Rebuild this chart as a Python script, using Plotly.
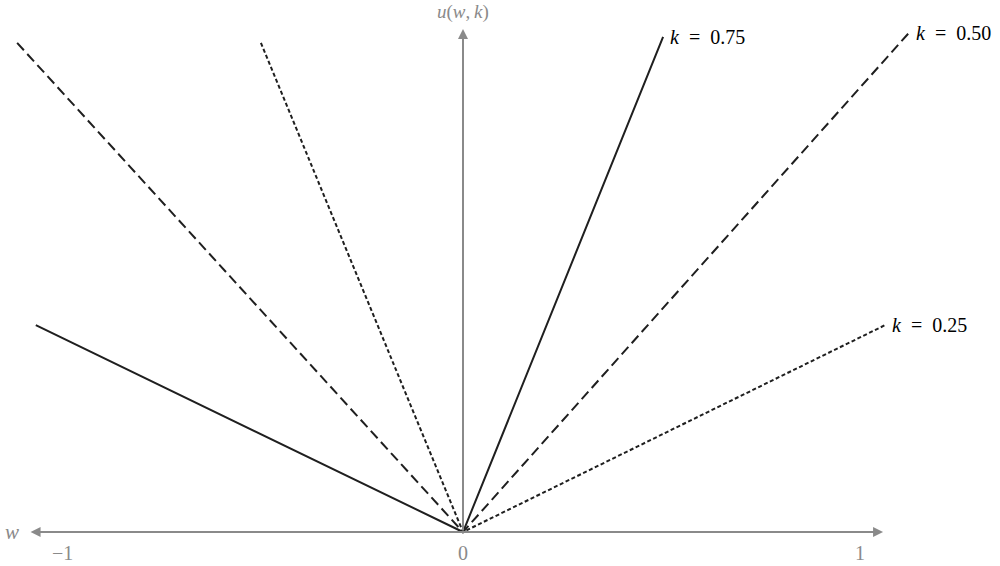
import plotly.graph_objects as go

# line end points (w, u)
k_labels = ["k = 0.75", "k = 0.50", "k = 0.25"]
w_075 = [-1.076, 0.0, 0.504]
u_075 = [0.521, 0.0, 1.247]
w_050 = [-1.123, 0.0, 1.123]
u_050 = [1.232, 0.0, 1.257]
w_025 = [-0.509, 0.0, 1.063]
u_025 = [1.232, 0.0, 0.521]

tick_vals = [-1, 0, 1]
tick_text = ["\u22121", "0", "1"]

AX = "#8a8a8a"
INK = "#1f1f1f"
FONT = "Liberation Serif"

fig = go.Figure()

series = [(w_075, u_075, "solid"), (w_050, u_050, "10px,5px"), (w_025, u_025, "4px,2.5px")]
for (w, u, dash), name in zip(series, k_labels):
    fig.add_trace(go.Scatter(x=w, y=u, mode="lines", name=name,
                             line=dict(color=INK, width=2, dash=dash),
                             showlegend=False, hoverinfo="skip"))

# axes drawn as arrows
fig.add_annotation(x=1.058, y=0, ax=-1.093, ay=0, xref="x", yref="y", axref="x", ayref="y",
                   text="", showarrow=True, arrowhead=2, startarrowhead=2, arrowside="end+start",
                   arrowsize=1, arrowwidth=2, arrowcolor=AX)
fig.add_annotation(x=0, y=1.267, ax=0, ay=0, xref="x", yref="y", axref="x", ayref="y",
                   text="", showarrow=True, arrowhead=2, arrowsize=1, arrowwidth=2, arrowcolor=AX)

# axis titles
fig.add_annotation(x=0, y=1.267, yshift=4, text="<i>u</i>(<i>w</i>,\u2009<i>k</i>)", showarrow=False,
                   font=dict(family=FONT, size=19, color=AX), xanchor="center", yanchor="bottom")
fig.add_annotation(x=-1.093, y=0, xshift=-8, text="<i>w</i>", showarrow=False,
                   font=dict(family=FONT, size=21, color=AX), xanchor="right", yanchor="middle")

# tick labels under the w axis
for v, t in zip(tick_vals, tick_text):
    fig.add_annotation(x=v, y=0, yshift=-8, xshift=-3 if v < 0 else 0, text=t, showarrow=False,
                       font=dict(family=FONT, size=20, color=AX), xanchor="center", yanchor="top")

# curve labels at the right ends
ends = [(w_075[-1], u_075[-1]), (w_050[-1], u_050[-1]), (w_025[-1], u_025[-1])]
for (x, y), lab in zip(ends, k_labels):
    k, eq, num = lab.split(" ")
    text = "<i>" + k + "</i>\u2002" + eq + "\u2002" + num
    fig.add_annotation(x=x, y=y, xshift=5, text=text, showarrow=False,
                       font=dict(family=FONT, size=20, color="black"), xanchor="left", yanchor="middle")

fig.update_layout(
    width=1000, height=566,
    margin=dict(l=0, r=0, t=0, b=0),
    paper_bgcolor="white", plot_bgcolor="white",
    xaxis=dict(range=[-1.1662, 1.3526], visible=False, fixedrange=True),
    yaxis=dict(range=[-0.0856, 1.340], visible=False, fixedrange=True),
)

fig.write_html("out.html", config={"displayModeBar": False},
               post_script="document.body.style.margin='0';")
